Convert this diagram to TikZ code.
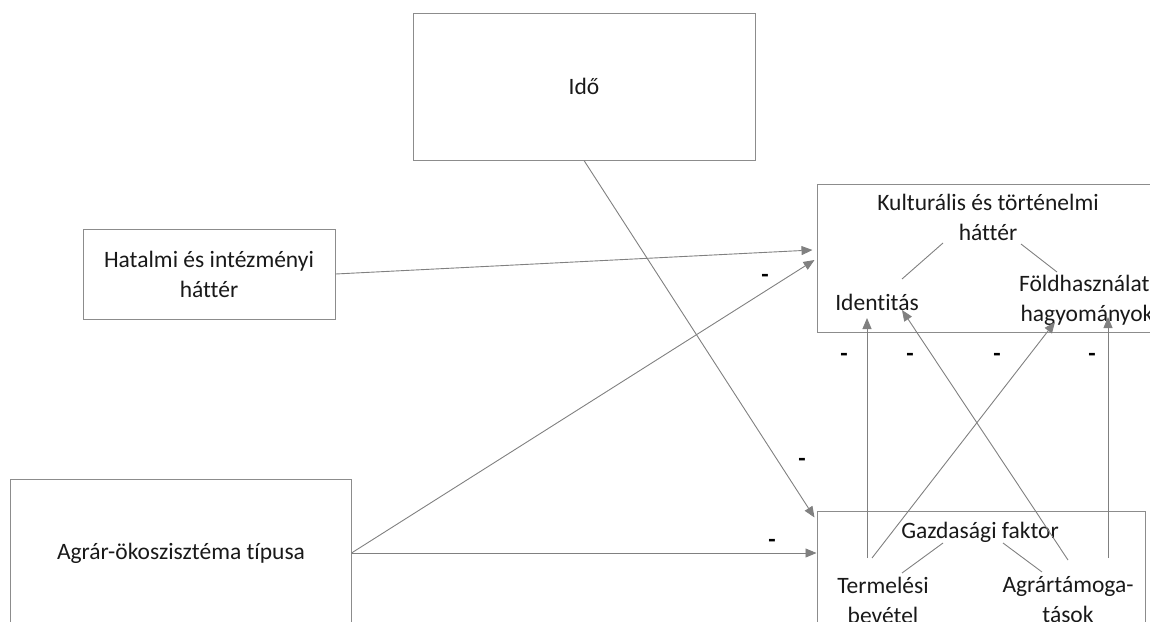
\documentclass[tikz,border=0pt]{standalone}
\usepackage{fontspec}
\setmainfont{Carlito}[Ligatures=NoCommon]
\usetikzlibrary{arrows.meta}
\definecolor{boxgray}{RGB}{140,140,140}
\definecolor{arrowgray}{RGB}{128,128,128}
\definecolor{textcol}{RGB}{25,25,25}
\begin{document}
\begin{tikzpicture}
        [x=1pt,y=-1pt,
         box/.style={draw=boxgray,line width=1pt,rectangle,inner sep=0},
         txt/.style={text=textcol,align=center,inner sep=0,font=\fontsize{23.5}{30}\selectfont},
         minus/.style={text=black,inner sep=0,font=\fontsize{24}{24}\selectfont\bfseries},
         link/.style={draw=arrowgray,line width=0.9pt},
         arr/.style={draw=arrowgray,line width=0.9pt,-{Triangle[length=11pt,width=9pt]}}]

        \useasboundingbox (0,0) rectangle (1150,621);

        \node[box,minimum width=342pt,minimum height=147pt] (ido) at (584,86.5) {};
        \node[box,minimum width=252pt,minimum height=90pt] (hatalmi) at (209,274) {};
        \node[box,minimum width=341pt,minimum height=148pt] (agrar) at (180.5,553) {};
        \node[box,minimum width=343pt,minimum height=148pt] (kult) at (988.5,258) {};
        \node[box,minimum width=328pt,minimum height=148pt] (gazd) at (981,585) {};

        \node[txt] (idotext) at (584,86) {Idő};
        \node[txt] (hatalmitext) at (209,274) {Hatalmi és intézményi\\háttér};
        \node[txt] (agrartext) at (181,553) {Agrár-ökoszisztéma típusa};
        \node[txt] (kulttitle) at (988,217) {Kulturális és történelmi\\háttér};
        \node[txt] (identitas) at (877,302) {Identitás};
        \node[txt] (fold) at (1087,300) {Földhasználati\\hagyományok};
        \node[txt] (gazdtitle) at (980,532) {Gazdasági faktor};
        \node[txt] (termeles) at (883,600) {Termelési\\bevétel};
        \node[txt] (agrartam) at (1068,600) {Agrártámoga-\\tások};

        \node[minus] (m1) at (765,278) {-};
        \node[minus] (m2) at (802,462) {-};
        \node[minus] (m3) at (772,543) {-};
        \node[minus] (m4) at (844,357) {-};
        \node[minus] (m5) at (910,357) {-};
        \node[minus] (m6) at (997,357) {-};
        \node[minus] (m7) at (1092,357) {-};

        \draw[link] ([shift={(-45,26)}]kulttitle.center) -- ([shift={(25,-23)}]identitas.center);
        \draw[link] ([shift={(33,27)}]kulttitle.center) -- ([shift={(-30,-28)}]fold.center);
        \draw[link] ([shift={(-37,11)}]gazdtitle.center) -- ([shift={(19,-27)}]termeles.center);
        \draw[link] ([shift={(23,11)}]gazdtitle.center) -- ([shift={(-26,-28)}]agrartam.center);

        \draw[arr] (hatalmi.east) -- ([shift={(-4,-8)}]kult.west);
        \draw[arr] (agrar.east) -- ([shift={(-2,2)}]kult.west);
        \draw[arr] (agrar.east) -- (agrar.east -| gazd.west);
        \draw[arr] (ido.south) -- ([shift={(-2,7)}]gazd.north west);
        \draw[arr] ([shift={(-16,-42)}]termeles.center) -- ([shift={(-10,16)}]identitas.center);
        \draw[arr] ([shift={(-11,-42)}]termeles.center) -- ([shift={(-32,22)}]fold.center);
        \draw[arr] ([shift={(0,-40)}]agrartam.center) -- ([shift={(25,8)}]identitas.center);
        \draw[arr] ([shift={(40,-42)}]agrartam.center) -- ([shift={(21,17)}]fold.center);
\end{tikzpicture}
\end{document}
